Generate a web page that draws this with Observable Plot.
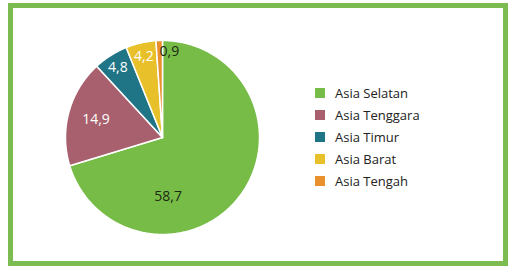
<!DOCTYPE html>
<html>
<head>
<meta charset="utf-8">
<script src="https://cdn.jsdelivr.net/npm/d3@7"></script>
<script src="https://cdn.jsdelivr.net/npm/@observablehq/plot@0.6"></script>
<style>
  html, body { margin: 0; padding: 0; background: #fff; }
  #wrap { position: relative; width: 515px; height: 270px; font-family: "Open Sans", sans-serif; }
  #frame { position: absolute; left: 8px; top: 3px; width: 500px; height: 263px; box-sizing: border-box; border: 5px solid #7cbb4f; }
  #chart { position: absolute; left: 0; top: 0; }
  #legend { position: absolute; left: 315px; top: 82px; }
  .row { display: flex; align-items: center; height: 22px; font-size: 13px; color: #222; }
  .sw { width: 10px; height: 10px; margin-right: 10px; }
</style>
</head>
<body>
<div id="wrap">
  <div id="frame"></div>
  <div id="chart"></div>
  <div id="legend"></div>
</div>
<script>
const categories = ["Asia Selatan", "Asia Tenggara", "Asia Timur", "Asia Barat", "Asia Tengah"];
const values = [58.7, 14.9, 4.8, 4.2, 0.9];
const valueLabels = ["58,7", "14,9", "4,8", "4,2", "0,9"];
const colors = ["#77bc47", "#a8606e", "#1f7585", "#e8c12a", "#e98f2c"];

const rows = categories.map((name, i) => ({name, value: values[i], label: valueLabels[i]}));
const arcs = d3.pie().sort(null).value(d => d.value)(rows);

// wedge outlines in unit-circle coordinates (y up)
const pts = [];
arcs.forEach(a => {
  const name = a.data.name;
  pts.push({name, x: 0, y: 0});
  const n = Math.max(2, Math.ceil((a.endAngle - a.startAngle) / 0.01));
  for (let k = 0; k <= n; k++) {
    const t = a.startAngle + (a.endAngle - a.startAngle) * k / n;
    pts.push({name, x: Math.sin(t), y: Math.cos(t)});
  }
  pts.push({name, x: 0, y: 0});
});

// label placement
const maxV = d3.max(values);
const labs = arcs.map(a => {
  const span = a.endAngle - a.startAngle;
  let ang = (a.startAngle + a.endAngle) / 2;
  let r = span > 0.6 ? 0.71 : 0.86;
  const dark = a.data.value === maxV || span < 0.1;
  if (a.data.value === maxV) { ang = Math.PI * 0.97; r = 0.61; }
  if (span < 0.1) { ang = a.endAngle + 0.08; r = 0.89; }
  return {label: a.data.label, x: r * Math.sin(ang), y: r * Math.cos(ang), dark};
});

const R = 97, cx = 162, cy = 137, W = 515, H = 270;
const chart = Plot.plot({
  width: W, height: H, margin: 0,
  style: {fontFamily: "Open Sans, sans-serif", background: "transparent"},
  x: {domain: [-cx / R, (W - cx) / R], axis: null},
  y: {domain: [-(H - cy) / R, cy / R], axis: null},
  color: {domain: categories, range: colors},
  marks: [
    Plot.line(pts, {x: "x", y: "y", z: "name", fill: "name", stroke: "white", strokeWidth: 1.5, strokeLinejoin: "round"}),
    Plot.text(labs.filter(d => !d.dark), {x: "x", y: "y", text: "label", fill: "white", fontSize: 14}),
    Plot.text(labs.filter(d => d.dark), {x: "x", y: "y", text: "label", fill: "#1c2a14", fontSize: 14})
  ]
});
document.getElementById("chart").appendChild(chart);

const legend = d3.select("#legend");
categories.forEach((c, i) => {
  const row = legend.append("div").attr("class", "row");
  row.append("div").attr("class", "sw").style("background", colors[i]);
  row.append("span").text(c);
});
</script>
</body>
</html>
